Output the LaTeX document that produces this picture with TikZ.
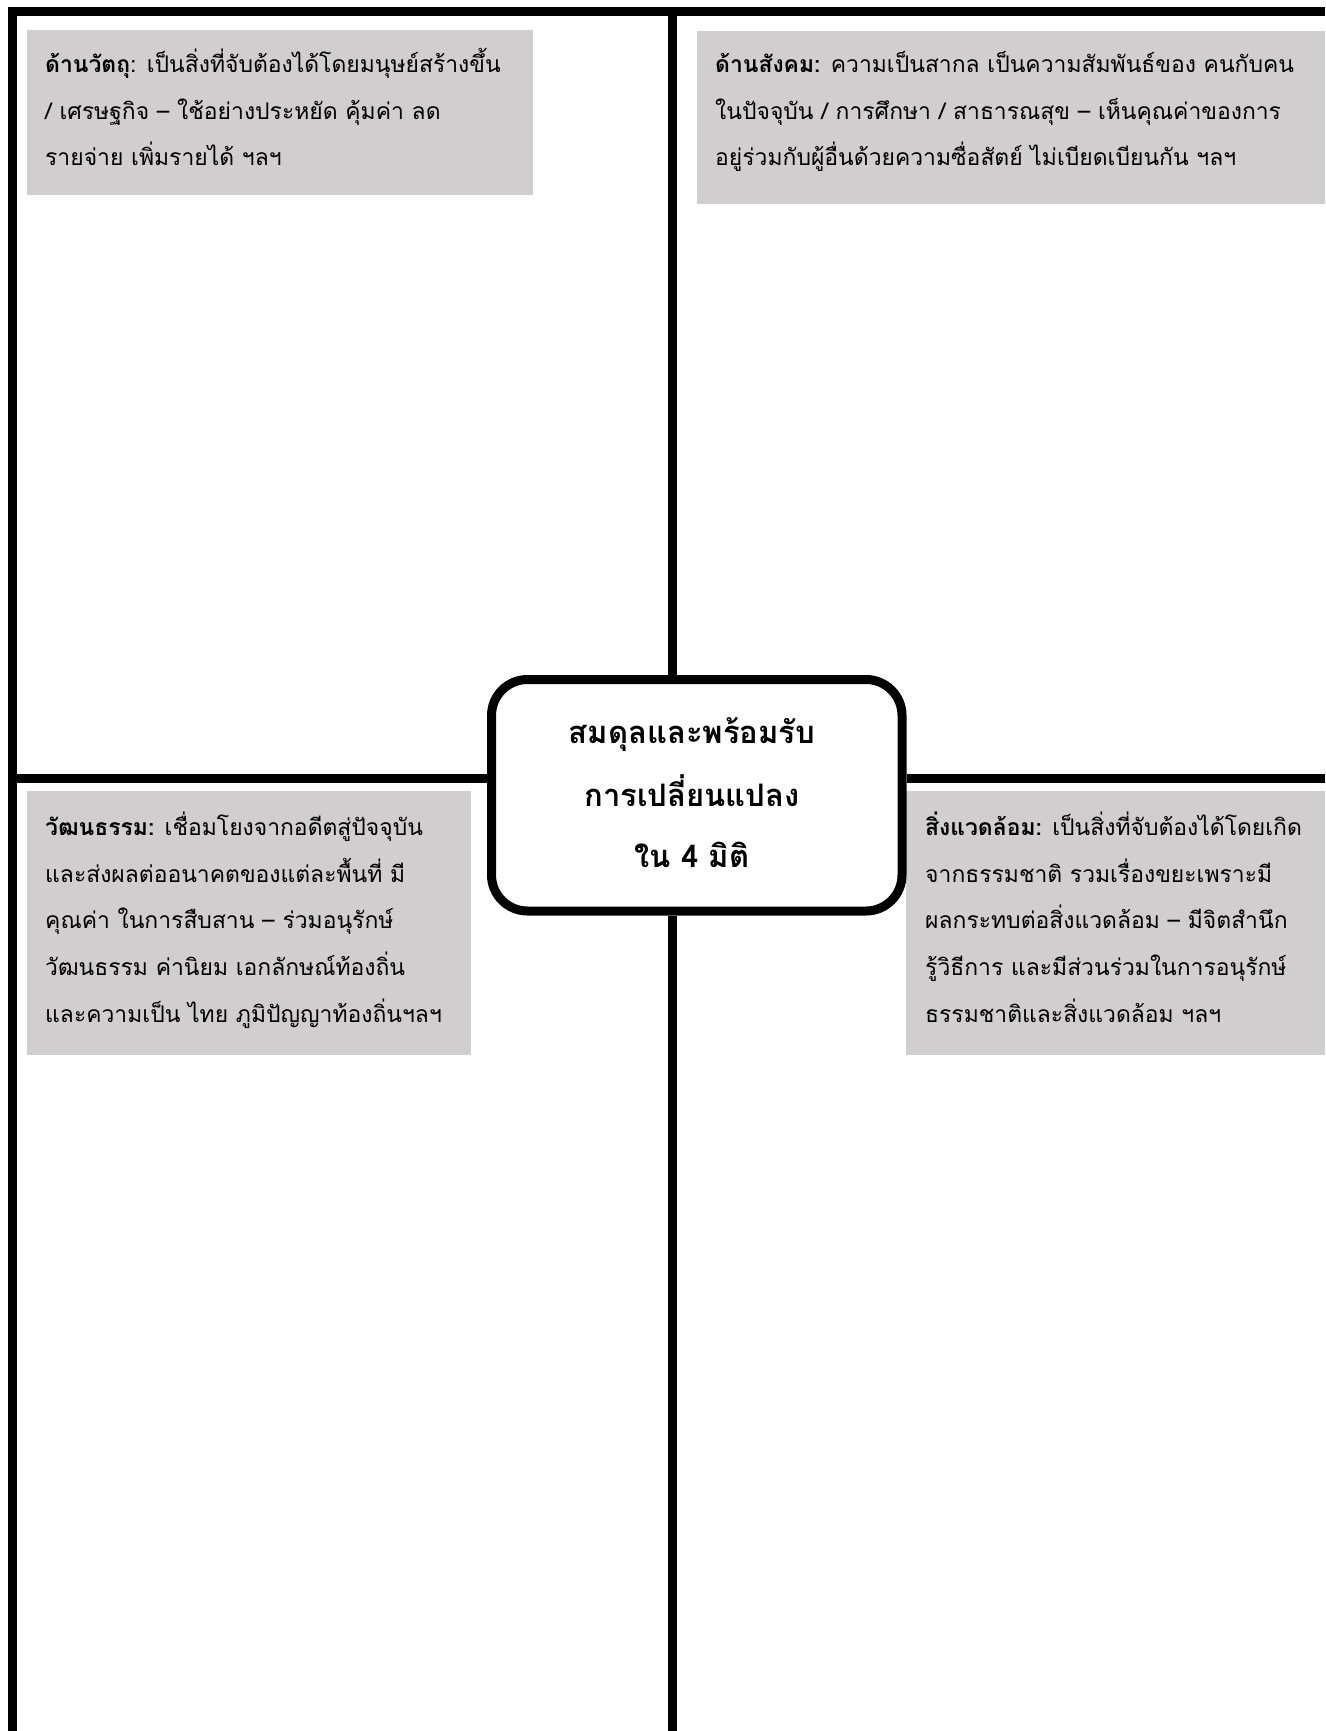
\documentclass[tikz,border=0pt]{standalone}
\usepackage{fontspec}
\setmainfont[Script=Thai]{Loma}
\definecolor{boxgrey}{HTML}{D0CECE}
\begin{document}
\begin{tikzpicture}[x=1pt,y=-1pt,
  frame/.style={line width=9pt, line cap=butt, line join=miter},
  panel/.style={fill=boxgrey, draw=none, anchor=north west, inner sep=0pt, outer sep=0pt},
  body/.style={anchor=base west, inner sep=0pt, font=\fontsize{22.9}{27}\selectfont},
  hub/.style={draw, line width=9pt, rounded corners=36pt, fill=white, minimum width=410.5pt, minimum height=231.5pt, inner sep=0pt},
  hubtext/.style={anchor=base, inner sep=0pt, font=\bfseries\fontsize{31}{36}\selectfont}]
\useasboundingbox (0,0) rectangle (1325,1731);
% grey panels
\node[panel, minimum width=506pt, minimum height=165pt] (p1) at (27,30) {};
\node[panel, minimum width=628pt, minimum height=173pt] (p2) at (697,31) {};
\node[panel, minimum width=444pt, minimum height=264pt] (p3) at (27,791) {};
\node[panel, minimum width=419pt, minimum height=264pt] (p4) at (906,791) {};
% frame
\coordinate (bl) at (12.5,1731);
\coordinate (tl) at (12.5,11.5);
\coordinate (tr) at (1325,11.5);
\coordinate (vtop) at (672.5,11.5);
\coordinate (vbot) at (672.5,1731);
\coordinate (hleft) at (12.5,778);
\coordinate (hright) at (1325,778);
\draw[frame] (bl) -- (tl) -- (tr);
\node[hub] (hub) at (696.75,795.25) {};
\draw[frame] (vtop) -- (vtop |- hub.north);
\draw[frame] (vbot) -- (vbot |- hub.south);
\draw[frame] (hleft) -- (hleft -| hub.west);
\draw[frame] (hright) -- (hright -| hub.east);
% hub text
\node[hubtext] (h1) at (692,743) {สมดุลและพร้อมรับ};
\node[hubtext] (h2) at (692,806) {การเปลี่ยนแปลง};
\node[hubtext] (h3) at (692,867) {ใน 4 มิติ};
% panel 1
\node[body] (a1) at (45,73) {\textbf{ด้านวัตถุ}: เป็นสิ่งที่จับต้องได้โดยมนุษย์สร้างขึ้น};
\node[body] (a2) at (45,120) {/ เศรษฐกิจ – ใช้อย่างประหยัด คุ้มค่า ลด};
\node[body] (a3) at (45,166) {รายจ่าย เพิ่มรายได้ ฯลฯ};
% panel 2
\node[body] (b1) at (715,73) {\textbf{ด้านสังคม:} ความเป็นสากล เป็นความสัมพันธ์ของ คนกับคน};
\node[body] (b2) at (715,120) {ในปัจจุบัน / การศึกษา / สาธารณสุข – เห็นคุณค่าของการ};
\node[body] (b3) at (715,166) {อยู่ร่วมกับผู้อื่นด้วยความซื่อสัตย์ ไม่เบียดเบียนกัน ฯลฯ};
% panel 3
\node[body] (c1) at (45,835) {\textbf{วัฒนธรรม:} เชื่อมโยงจากอดีตสู่ปัจจุบัน};
\node[body] (c2) at (45,882) {และส่งผลต่ออนาคตของแต่ละพื้นที่ มี};
\node[body] (c3) at (45,928) {คุณค่า ในการสืบสาน – ร่วมอนุรักษ์};
\node[body] (c4) at (45,975) {วัฒนธรรม ค่านิยม เอกลักษณ์ท้องถิ่น};
\node[body] (c5) at (45,1022) {และความเป็น ไทย ภูมิปัญญาท้องถิ่นฯลฯ};
% panel 4
\node[body] (d1) at (925,835) {\textbf{สิ่งแวดล้อม:} เป็นสิ่งที่จับต้องได้โดยเกิด};
\node[body] (d2) at (925,882) {จากธรรมชาติ รวมเรื่องขยะเพราะมี};
\node[body] (d3) at (925,928) {ผลกระทบต่อสิ่งแวดล้อม – มีจิตสำนึก};
\node[body] (d4) at (925,975) {รู้วิธีการ และมีส่วนร่วมในการอนุรักษ์};
\node[body] (d5) at (925,1022) {ธรรมชาติและสิ่งแวดล้อม ฯลฯ};
\end{tikzpicture}
\end{document}
